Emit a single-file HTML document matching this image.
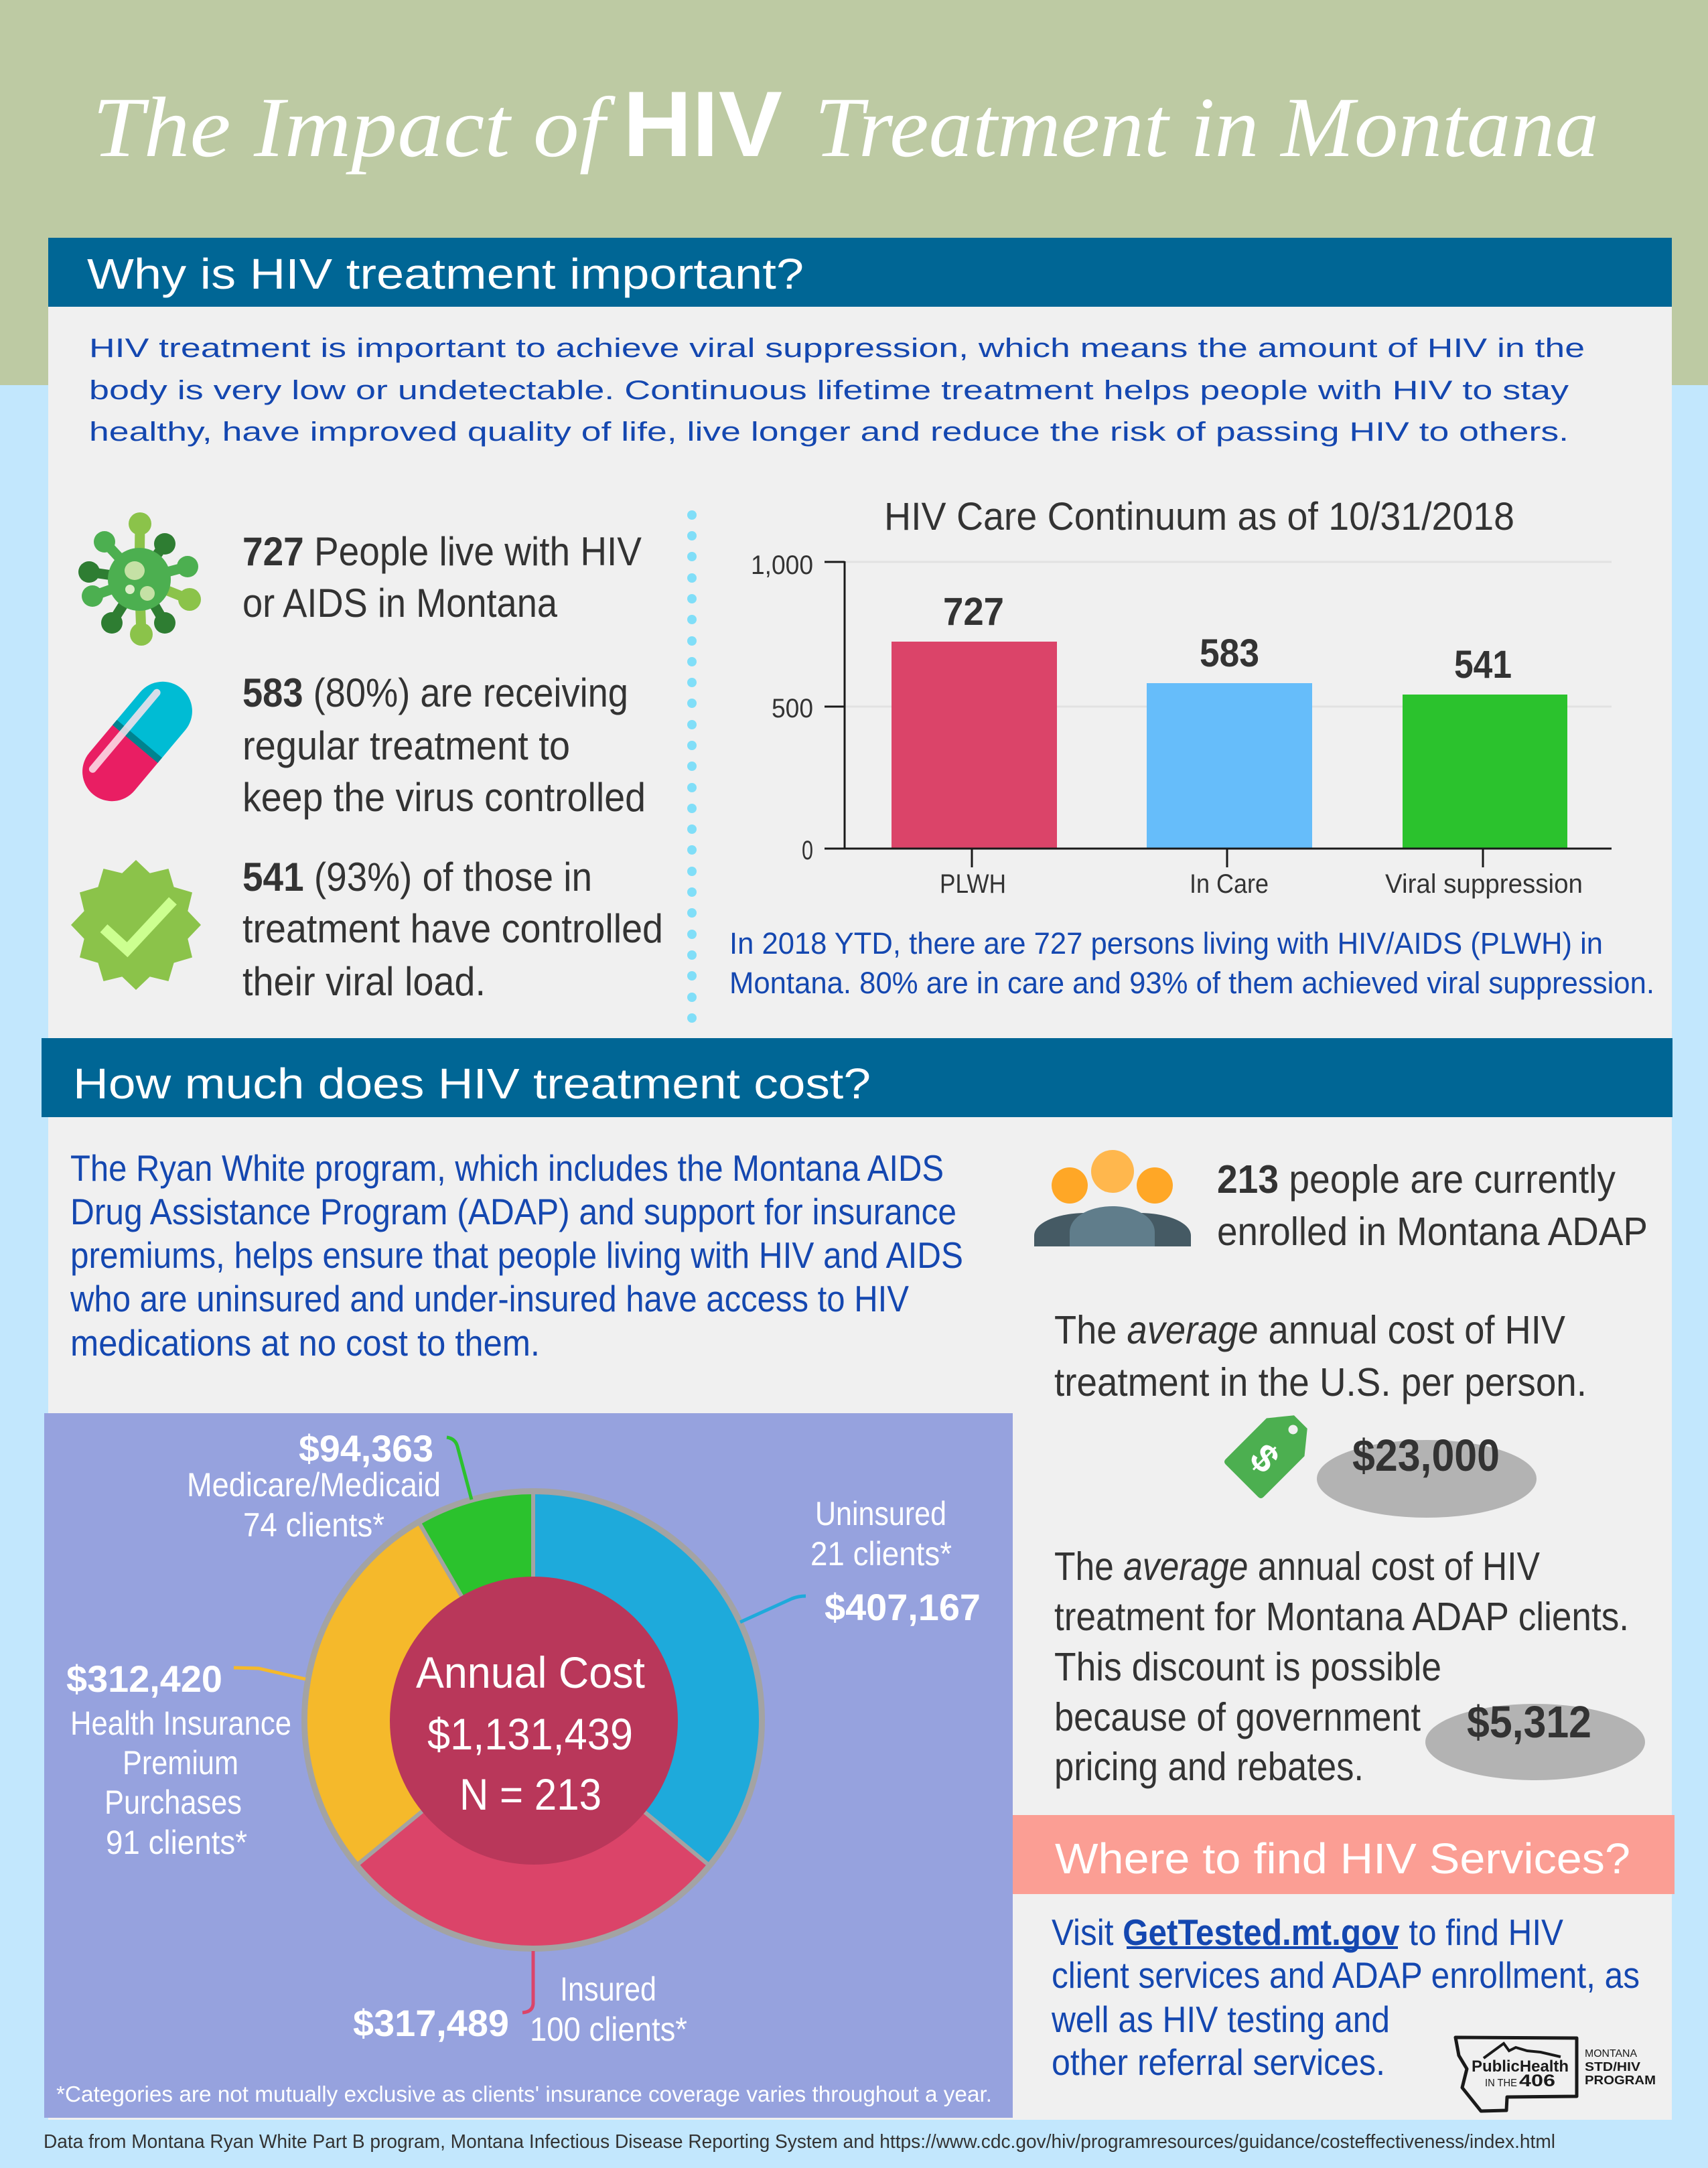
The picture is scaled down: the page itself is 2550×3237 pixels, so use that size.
<!DOCTYPE html>
<html><head><meta charset="utf-8"><style>
html,body{margin:0;padding:0;background:#c2e7fd;}
svg{display:block;}
.c{font-family:"Liberation Sans Narrow","Liberation Sans",sans-serif;}
.s{font-family:"Liberation Sans",sans-serif;}
</style></head><body>
<svg width="2550" height="3237" viewBox="0 0 2550 3237" xmlns="http://www.w3.org/2000/svg">
<!-- backgrounds -->
<rect x="0" y="0" width="2550" height="3237" fill="#c2e7fd"/>
<rect x="0" y="0" width="2550" height="575" fill="#bdcaa3"/>
<rect x="72" y="355" width="2424" height="2810" fill="#f0f0f0"/>

<!-- title -->
<text x="138" y="233" font-family="Liberation Serif,serif" font-style="italic" font-size="128" fill="#ffffff" textLength="765" lengthAdjust="spacingAndGlyphs">The Impact of</text>
<text x="930" y="233" class="s" font-weight="bold" font-size="139" fill="#ffffff" textLength="238" lengthAdjust="spacingAndGlyphs">HIV</text>
<text x="1216" y="233" font-family="Liberation Serif,serif" font-style="italic" font-size="128" fill="#ffffff" textLength="1171" lengthAdjust="spacingAndGlyphs">Treatment in Montana</text>

<!-- header 1 -->
<rect x="72" y="355" width="2424" height="103" fill="#006695"/>
<text x="130" y="431" class="s" font-size="64" fill="#ffffff" textLength="1070" lengthAdjust="spacingAndGlyphs">Why is HIV treatment important?</text>

<g class="s" font-size="40" fill="#1447b0">
<text x="133" y="533" textLength="2233" lengthAdjust="spacingAndGlyphs">HIV treatment is important to achieve viral suppression, which means the amount of HIV in the</text>
<text x="133" y="596" textLength="2209" lengthAdjust="spacingAndGlyphs">body is very low or undetectable. Continuous lifetime treatment helps people with HIV to stay</text>
<text x="133" y="658" textLength="2209" lengthAdjust="spacingAndGlyphs">healthy, have improved quality of life, live longer and reduce the risk of passing HIV to others.</text>
</g>

<!-- virus icon -->
<g stroke-width="15" stroke-linecap="round">
<line x1="208" y1="865" x2="209" y2="782" stroke="#8bc34a"/>
<line x1="208" y1="865" x2="246" y2="812" stroke="#2e7d32"/>
<line x1="208" y1="865" x2="280" y2="846" stroke="#4caf50"/>
<line x1="208" y1="865" x2="283" y2="895" stroke="#8bc34a"/>
<line x1="208" y1="865" x2="246" y2="930" stroke="#2e7d32"/>
<line x1="208" y1="865" x2="211" y2="947" stroke="#8bc34a"/>
<line x1="208" y1="865" x2="167" y2="930" stroke="#2e7d32"/>
<line x1="208" y1="865" x2="138" y2="890" stroke="#4caf50"/>
<line x1="208" y1="865" x2="133" y2="854" stroke="#2e7d32"/>
<line x1="208" y1="865" x2="156" y2="809" stroke="#4caf50"/>
</g>
<circle cx="209" cy="782" r="17" fill="#8bc34a"/>
<circle cx="246" cy="812" r="16" fill="#2e7d32"/>
<circle cx="280" cy="846" r="16" fill="#4caf50"/>
<circle cx="283" cy="895" r="17" fill="#8bc34a"/>
<circle cx="246" cy="930" r="16" fill="#2e7d32"/>
<circle cx="211" cy="947" r="17" fill="#8bc34a"/>
<circle cx="167" cy="930" r="16" fill="#2e7d32"/>
<circle cx="138" cy="890" r="16" fill="#4caf50"/>
<circle cx="133" cy="854" r="16" fill="#2e7d32"/>
<circle cx="156" cy="809" r="16" fill="#4caf50"/>
<circle cx="208" cy="865" r="47" fill="#4caf50"/>
<ellipse cx="201" cy="852" rx="15" ry="14" fill="#c5e1a5"/>
<circle cx="194" cy="880" r="7" fill="#dcedc8"/>
<circle cx="220" cy="886" r="11" fill="#c5e1a5"/>

<!-- pill icon -->
<g transform="translate(205,1107) rotate(-50)">
<clipPath id="pc"><rect x="-103" y="-44" width="206" height="88" rx="44"/></clipPath>
<g clip-path="url(#pc)">
<rect x="-110" y="-50" width="110" height="100" fill="#e91e63"/>
<rect x="0" y="-50" width="110" height="100" fill="#00bcd4"/>
<rect x="-5" y="-50" width="10" height="100" fill="#00838f"/>
<rect x="-80" y="-30" width="160" height="11" rx="5.5" fill="#fce4ec" opacity="0.85"/>
</g>
</g>

<!-- badge icon -->
<polygon fill="#8bc34a" points="203,1284 223.7,1303.7 251.5,1297 259.6,1324.4 287,1332.5 280.3,1360.3 300,1381 280.3,1401.7 287,1429.5 259.6,1437.6 251.5,1465 223.7,1458.3 203,1478 182.3,1458.3 154.5,1465 146.4,1437.6 119,1429.5 125.7,1401.7 106,1381 125.7,1360.3 119,1332.5 146.4,1324.4 154.5,1297 182.3,1303.7"/>
<polyline points="155,1386 190,1418 258,1345" fill="none" stroke="#ccff90" stroke-width="16"/>

<!-- left stats -->
<g class="c" font-size="60" fill="#333333">
<text x="362" y="844" textLength="596" lengthAdjust="spacingAndGlyphs"><tspan font-weight="bold">727</tspan> People live with HIV</text>
<text x="362" y="921" textLength="470" lengthAdjust="spacingAndGlyphs">or AIDS in Montana</text>
<text x="362" y="1055" textLength="576" lengthAdjust="spacingAndGlyphs"><tspan font-weight="bold">583</tspan> (80%) are receiving</text>
<text x="362" y="1134" textLength="489" lengthAdjust="spacingAndGlyphs">regular treatment to</text>
<text x="362" y="1211" textLength="602" lengthAdjust="spacingAndGlyphs">keep the virus controlled</text>
<text x="362" y="1330" textLength="522" lengthAdjust="spacingAndGlyphs"><tspan font-weight="bold">541</tspan> (93%) of those in</text>
<text x="362" y="1407" textLength="628" lengthAdjust="spacingAndGlyphs">treatment have controlled</text>
<text x="362" y="1486" textLength="363" lengthAdjust="spacingAndGlyphs">their viral load.</text>
</g>

<!-- dotted divider -->
<g fill="#80def8">
<circle cx="1033" cy="769" r="7"/><circle cx="1033" cy="800" r="7"/><circle cx="1033" cy="831" r="7"/><circle cx="1033" cy="863" r="7"/><circle cx="1033" cy="894" r="7"/>
<circle cx="1033" cy="925" r="7"/><circle cx="1033" cy="957" r="7"/><circle cx="1033" cy="988" r="7"/><circle cx="1033" cy="1019" r="7"/><circle cx="1033" cy="1050" r="7"/>
<circle cx="1033" cy="1082" r="7"/><circle cx="1033" cy="1113" r="7"/><circle cx="1033" cy="1144" r="7"/><circle cx="1033" cy="1176" r="7"/><circle cx="1033" cy="1207" r="7"/>
<circle cx="1033" cy="1238" r="7"/><circle cx="1033" cy="1269" r="7"/><circle cx="1033" cy="1301" r="7"/><circle cx="1033" cy="1332" r="7"/><circle cx="1033" cy="1363" r="7"/>
<circle cx="1033" cy="1395" r="7"/><circle cx="1033" cy="1426" r="7"/><circle cx="1033" cy="1457" r="7"/><circle cx="1033" cy="1489" r="7"/><circle cx="1033" cy="1520" r="7"/>
</g>

<!-- bar chart -->
<text x="1320" y="791" class="c" font-size="58" fill="#333333" textLength="941" lengthAdjust="spacingAndGlyphs">HIV Care Continuum as of 10/31/2018</text>
<line x1="1261" y1="839" x2="2406" y2="839" stroke="#e2e2e2" stroke-width="3"/>
<line x1="1261" y1="1055" x2="2406" y2="1055" stroke="#e2e2e2" stroke-width="3"/>
<rect x="1331" y="958" width="247" height="309" fill="#db4469"/>
<rect x="1712" y="1020" width="247" height="247" fill="#66bdfa"/>
<rect x="2094" y="1037" width="246" height="230" fill="#2bc22d"/>
<line x1="1261" y1="838" x2="1261" y2="1268" stroke="#1a1a1a" stroke-width="3"/>
<line x1="1231" y1="839" x2="1261" y2="839" stroke="#1a1a1a" stroke-width="3"/>
<line x1="1231" y1="1055" x2="1261" y2="1055" stroke="#1a1a1a" stroke-width="3"/>
<line x1="1231" y1="1267" x2="2406" y2="1267" stroke="#1a1a1a" stroke-width="3"/>
<line x1="1451" y1="1267" x2="1451" y2="1295" stroke="#1a1a1a" stroke-width="3"/>
<line x1="1832" y1="1267" x2="1832" y2="1295" stroke="#1a1a1a" stroke-width="3"/>
<line x1="2214" y1="1267" x2="2214" y2="1295" stroke="#1a1a1a" stroke-width="3"/>
<g class="c" font-size="40" fill="#333333">
<text x="1121" y="857" textLength="93" lengthAdjust="spacingAndGlyphs">1,000</text>
<text x="1152" y="1071" textLength="62" lengthAdjust="spacingAndGlyphs">500</text>
<text x="1197" y="1283" textLength="17" lengthAdjust="spacingAndGlyphs">0</text>
<text x="1403" y="1333" textLength="99" lengthAdjust="spacingAndGlyphs">PLWH</text>
<text x="1776" y="1333" textLength="118" lengthAdjust="spacingAndGlyphs">In Care</text>
<text x="2068" y="1333" textLength="295" lengthAdjust="spacingAndGlyphs">Viral suppression</text>
</g>
<g class="c" font-size="58" font-weight="bold" fill="#333333">
<text x="1408" y="933" textLength="91" lengthAdjust="spacingAndGlyphs">727</text>
<text x="1791" y="995" textLength="89" lengthAdjust="spacingAndGlyphs">583</text>
<text x="2171" y="1012" textLength="86" lengthAdjust="spacingAndGlyphs">541</text>
</g>
<g class="c" font-size="45" fill="#1447b0">
<text x="1089" y="1424" textLength="1304" lengthAdjust="spacingAndGlyphs">In 2018 YTD, there are 727 persons living with HIV/AIDS (PLWH) in</text>
<text x="1089" y="1483" textLength="1381" lengthAdjust="spacingAndGlyphs">Montana. 80% are in care and 93% of them achieved viral suppression.</text>
</g>

<!-- header 2 -->
<rect x="62" y="1550" width="2435" height="118" fill="#006695"/>
<text x="109" y="1640" class="s" font-size="64" fill="#ffffff" textLength="1191" lengthAdjust="spacingAndGlyphs">How much does HIV treatment cost?</text>

<g class="c" font-size="55" fill="#1447b0">
<text x="105" y="1763" textLength="1304" lengthAdjust="spacingAndGlyphs">The Ryan White program, which includes the Montana AIDS</text>
<text x="105" y="1828" textLength="1323" lengthAdjust="spacingAndGlyphs">Drug Assistance Program (ADAP) and support for insurance</text>
<text x="105" y="1893" textLength="1333" lengthAdjust="spacingAndGlyphs">premiums, helps ensure that people living with HIV and AIDS</text>
<text x="105" y="1958" textLength="1252" lengthAdjust="spacingAndGlyphs">who are uninsured and under-insured have access to HIV</text>
<text x="105" y="2024" textLength="701" lengthAdjust="spacingAndGlyphs">medications at no cost to them.</text>
</g>

<!-- donut panel -->
<rect x="66" y="2110" width="1446" height="1052" fill="#96a2de"/>
<g stroke="#a3a3a3" stroke-width="6" stroke-linejoin="round">
<path d="M796,2568 L796,2228 A340,340 0 0 1 1058.1,2784.6 Z" fill="#1eaadb"/>
<path d="M796,2568 L1058.1,2784.6 A340,340 0 0 1 533.5,2784.1 Z" fill="#db4469"/>
<path d="M796,2568 L533.5,2784.1 A340,340 0 0 1 625.8,2273.6 Z" fill="#f5b92b"/>
<path d="M796,2568 L625.8,2273.6 A340,340 0 0 1 796,2228 Z" fill="#2bc22d"/>
</g>
<circle cx="796" cy="2568" r="342" fill="none" stroke="#a3a3a3" stroke-width="8"/>
<circle cx="797" cy="2569" r="215" fill="#b9375a"/>
<!-- leaders -->
<path d="M667,2146 Q680,2148 683,2160 L704,2239" fill="none" stroke="#2bc22d" stroke-width="5"/>
<path d="M1105,2422 L1182,2387 Q1192,2383 1203,2383" fill="none" stroke="#1eaadb" stroke-width="5"/>
<path d="M349,2490 L386,2491 L456,2507" fill="none" stroke="#f5b92b" stroke-width="5"/>
<path d="M796,2913 L796,2992 Q795,3004 780,3005" fill="none" stroke="#db4469" stroke-width="5"/>
<g class="c" fill="#ffffff">
<text x="621" y="2520" font-size="66" textLength="342" lengthAdjust="spacingAndGlyphs">Annual Cost</text>
<text x="638" y="2612" font-size="66" textLength="307" lengthAdjust="spacingAndGlyphs">$1,131,439</text>
<text x="686" y="2702" font-size="66" textLength="212" lengthAdjust="spacingAndGlyphs">N = 213</text>
<g font-size="56" font-weight="bold">
<text x="446" y="2182" textLength="201" lengthAdjust="spacingAndGlyphs">$94,363</text>
<text x="1231" y="2419" textLength="233" lengthAdjust="spacingAndGlyphs">$407,167</text>
<text x="99" y="2526" textLength="233" lengthAdjust="spacingAndGlyphs">$312,420</text>
<text x="527" y="3040" textLength="233" lengthAdjust="spacingAndGlyphs">$317,489</text>
</g>
<g font-size="50">
<text x="279" y="2234" textLength="379" lengthAdjust="spacingAndGlyphs">Medicare/Medicaid</text>
<text x="363" y="2294" textLength="211" lengthAdjust="spacingAndGlyphs">74 clients*</text>
<text x="1217" y="2277" textLength="196" lengthAdjust="spacingAndGlyphs">Uninsured</text>
<text x="1210" y="2337" textLength="211" lengthAdjust="spacingAndGlyphs">21 clients*</text>
<text x="105" y="2590" textLength="330" lengthAdjust="spacingAndGlyphs">Health Insurance</text>
<text x="183" y="2649" textLength="173" lengthAdjust="spacingAndGlyphs">Premium</text>
<text x="156" y="2708" textLength="205" lengthAdjust="spacingAndGlyphs">Purchases</text>
<text x="158" y="2768" textLength="211" lengthAdjust="spacingAndGlyphs">91 clients*</text>
<text x="836" y="2987" textLength="144" lengthAdjust="spacingAndGlyphs">Insured</text>
<text x="791" y="3047" textLength="235" lengthAdjust="spacingAndGlyphs">100 clients*</text>
</g>
<text x="84" y="3138" font-size="33" textLength="1397" lengthAdjust="spacingAndGlyphs">*Categories are not mutually exclusive as clients' insurance coverage varies throughout a year.</text>
</g>

<!-- people icon -->
<path d="M1544,1861 V1845 C1544,1825 1580,1811 1622,1811 C1664,1811 1700,1825 1700,1845 V1861 Z" fill="#455a64"/>
<path d="M1622,1861 V1845 C1622,1825 1658,1811 1700,1811 C1742,1811 1778,1825 1778,1845 V1861 Z" fill="#455a64"/>
<path d="M1597,1861 V1840 C1597,1815 1630,1801 1661,1801 C1692,1801 1724,1815 1724,1840 V1861 Z" fill="#607d8b"/>
<circle cx="1597" cy="1770" r="27" fill="#ffa726"/>
<circle cx="1724" cy="1770" r="27" fill="#ffa726"/>
<circle cx="1661" cy="1749" r="32" fill="#ffb74d"/>

<g class="c" font-size="59" fill="#333333">
<text x="1817" y="1781" textLength="595" lengthAdjust="spacingAndGlyphs"><tspan font-weight="bold">213</tspan> people are currently</text>
<text x="1817" y="1859" textLength="643" lengthAdjust="spacingAndGlyphs">enrolled in Montana ADAP</text>
<text x="1574" y="2006" textLength="763" lengthAdjust="spacingAndGlyphs">The <tspan font-style="italic">average</tspan> annual cost of HIV</text>
<text x="1574" y="2084" textLength="795" lengthAdjust="spacingAndGlyphs">treatment in the U.S. per person.</text>
<text x="1574" y="2359" textLength="725" lengthAdjust="spacingAndGlyphs">The <tspan font-style="italic">average</tspan> annual cost of HIV</text>
<text x="1574" y="2434" textLength="858" lengthAdjust="spacingAndGlyphs">treatment for Montana ADAP clients.</text>
<text x="1574" y="2509" textLength="578" lengthAdjust="spacingAndGlyphs">This discount is possible</text>
<text x="1574" y="2584" textLength="547" lengthAdjust="spacingAndGlyphs">because of government</text>
<text x="1574" y="2658" textLength="462" lengthAdjust="spacingAndGlyphs">pricing and rebates.</text>
</g>

<!-- price tag -->
<g transform="translate(1898,2167) rotate(-45)">
<path d="M-62,-34 Q-62,-40 -56,-40 L30,-40 L62,-14 L62,14 L30,40 L-56,40 Q-62,40 -62,34 Z" fill="#4caf50"/>
<circle cx="46" cy="0" r="7" fill="#f0f0f0"/>
<text x="-30" y="20" class="s" font-size="58" font-weight="bold" fill="#ffffff" transform="rotate(90 -14 0)">$</text>
</g>
<ellipse cx="2130" cy="2208" rx="164" ry="58" fill="#b3b3b3"/>
<ellipse cx="2292" cy="2601" rx="164" ry="57" fill="#b3b3b3"/>
<g class="c" font-size="67" font-weight="bold" fill="#333333">
<text x="2019" y="2196" textLength="220" lengthAdjust="spacingAndGlyphs">$23,000</text>
<text x="2190" y="2594" textLength="186" lengthAdjust="spacingAndGlyphs">$5,312</text>
</g>

<!-- services -->
<rect x="1512" y="2710" width="988" height="118" fill="#fb9e94"/>
<text x="1575" y="2797" class="s" font-size="64" fill="#ffffff" textLength="859" lengthAdjust="spacingAndGlyphs">Where to find HIV Services?</text>
<g class="c" font-size="55" fill="#1447b0">
<text x="1570" y="2904" textLength="764" lengthAdjust="spacingAndGlyphs">Visit <tspan font-weight="bold">GetTested.mt.gov</tspan> to find HIV</text>
<text x="1570" y="2968" textLength="878" lengthAdjust="spacingAndGlyphs">client services and ADAP enrollment, as</text>
<text x="1570" y="3034" textLength="505" lengthAdjust="spacingAndGlyphs">well as HIV testing and</text>
<text x="1570" y="3098" textLength="498" lengthAdjust="spacingAndGlyphs">other referral services.</text>
</g>
<rect x="1682" y="2906" width="405" height="4" fill="#1447b0"/>

<!-- logo -->
<path d="M2173,3042 L2354,3043 L2354,3130 L2250,3131 L2249,3151 L2211,3152 L2183,3117 L2190,3089 L2178,3069 Z" fill="none" stroke="#1a1a1a" stroke-width="5" stroke-linejoin="round"/>
<polyline points="2215,3073 2245,3051 2253,3062 2263,3057 2280,3062 2300,3064 2330,3071" fill="none" stroke="#1a1a1a" stroke-width="4"/>
<g class="c" fill="#1a1a1a">
<text x="2197" y="3093" font-size="24" font-weight="bold" textLength="145" lengthAdjust="spacingAndGlyphs">PublicHealth</text>
<text x="2217" y="3115" font-size="16" textLength="48" lengthAdjust="spacingAndGlyphs">IN THE</text>
<text x="2268" y="3115" font-size="25" font-weight="bold" textLength="54" lengthAdjust="spacingAndGlyphs">406</text>
<text x="2366" y="3071" font-size="16" textLength="78" lengthAdjust="spacingAndGlyphs">MONTANA</text>
<text x="2366" y="3092" font-size="18" font-weight="bold" textLength="83" lengthAdjust="spacingAndGlyphs">STD/HIV</text>
<text x="2366" y="3112" font-size="18" font-weight="bold" textLength="106" lengthAdjust="spacingAndGlyphs">PROGRAM</text>
</g>

<!-- footer -->
<text x="65" y="3207" class="c" font-size="29" fill="#333333" textLength="2257" lengthAdjust="spacingAndGlyphs">Data from Montana Ryan White Part B program, Montana Infectious Disease Reporting System and https://www.cdc.gov/hiv/programresources/guidance/costeffectiveness/index.html</text>
</svg>
</body></html>
